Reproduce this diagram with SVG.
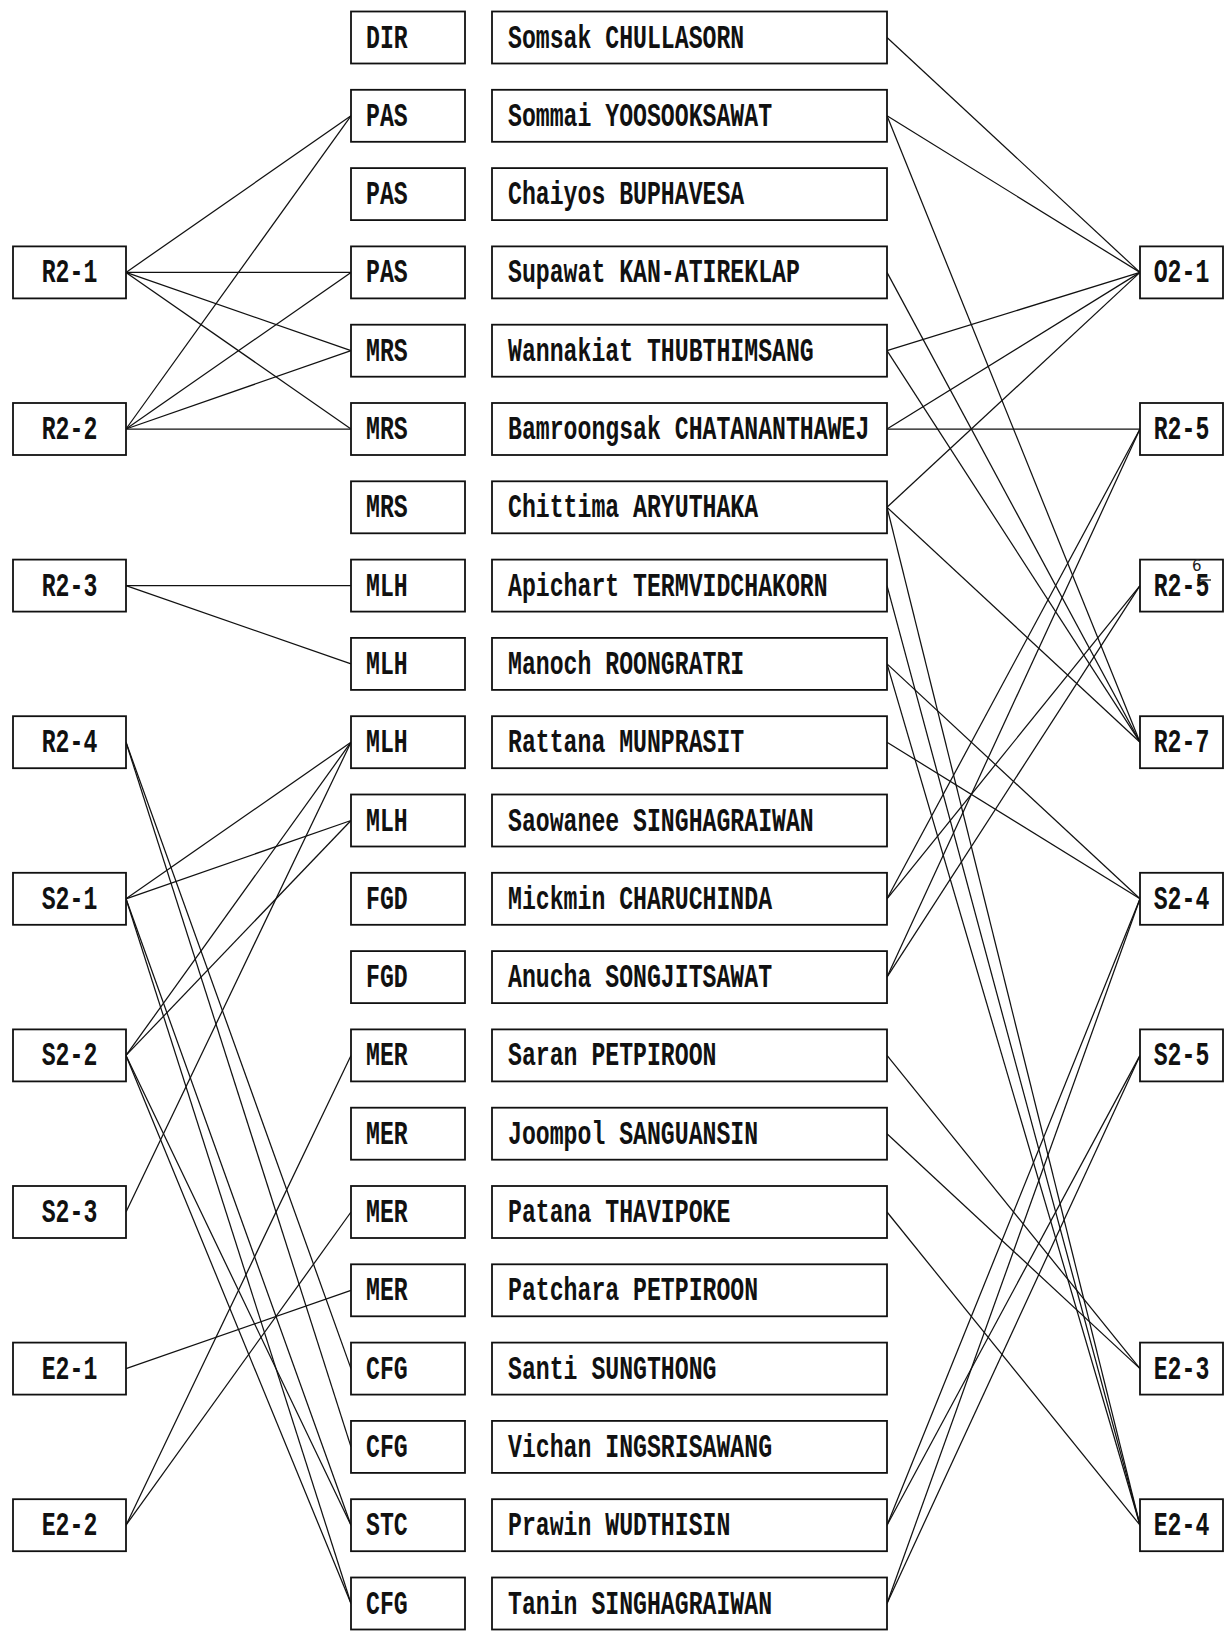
<svg xmlns="http://www.w3.org/2000/svg" width="1232" height="1632" viewBox="0 0 1232 1632">
<style>
.box{fill:#fff;stroke:#111;stroke-width:1.8}
.t{font-family:"Liberation Mono","DejaVu Sans Mono",monospace;font-weight:bold;font-size:34px;fill:#111}
.hand{font-family:"DejaVu Sans",sans-serif;font-size:15px;fill:#222}
#connectors line{stroke:#111;stroke-width:1.25;fill:none}
</style>
<rect width="1232" height="1632" fill="#fff"/>
<g id="connectors">
<line x1="126" y1="272.4" x2="351" y2="115.8"/>
<line x1="126" y1="272.4" x2="351" y2="272.4"/>
<line x1="126" y1="272.4" x2="351" y2="350.7"/>
<line x1="126" y1="272.4" x2="351" y2="429"/>
<line x1="126" y1="429" x2="351" y2="115.8"/>
<line x1="126" y1="429" x2="351" y2="272.4"/>
<line x1="126" y1="429" x2="351" y2="350.7"/>
<line x1="126" y1="429" x2="351" y2="429"/>
<line x1="126" y1="585.6" x2="351" y2="585.6"/>
<line x1="126" y1="585.6" x2="351" y2="663.9"/>
<line x1="126" y1="742.2" x2="351" y2="1368.6"/>
<line x1="126" y1="742.2" x2="351" y2="1446.9"/>
<line x1="126" y1="898.8" x2="351" y2="742.2"/>
<line x1="126" y1="898.8" x2="351" y2="820.5"/>
<line x1="126" y1="898.8" x2="351" y2="1525.2"/>
<line x1="126" y1="898.8" x2="351" y2="1603.5"/>
<line x1="126" y1="1055.4" x2="351" y2="742.2"/>
<line x1="126" y1="1055.4" x2="351" y2="820.5"/>
<line x1="126" y1="1055.4" x2="351" y2="1525.2"/>
<line x1="126" y1="1055.4" x2="351" y2="1603.5"/>
<line x1="126" y1="1212" x2="351" y2="742.2"/>
<line x1="126" y1="1368.6" x2="351" y2="1290.3"/>
<line x1="126" y1="1525.2" x2="351" y2="1055.4"/>
<line x1="126" y1="1525.2" x2="351" y2="1212"/>
<line x1="887" y1="37.5" x2="1140" y2="272.4"/>
<line x1="887" y1="115.8" x2="1140" y2="272.4"/>
<line x1="887" y1="350.7" x2="1140" y2="272.4"/>
<line x1="887" y1="429" x2="1140" y2="272.4"/>
<line x1="887" y1="507.3" x2="1140" y2="272.4"/>
<line x1="887" y1="429" x2="1140" y2="429"/>
<line x1="887" y1="898.8" x2="1140" y2="429"/>
<line x1="887" y1="977.1" x2="1140" y2="429"/>
<line x1="887" y1="898.8" x2="1140" y2="585.6"/>
<line x1="887" y1="977.1" x2="1140" y2="585.6"/>
<line x1="887" y1="115.8" x2="1140" y2="742.2"/>
<line x1="887" y1="272.4" x2="1140" y2="742.2"/>
<line x1="887" y1="350.7" x2="1140" y2="742.2"/>
<line x1="887" y1="507.3" x2="1140" y2="742.2"/>
<line x1="887" y1="663.9" x2="1140" y2="898.8"/>
<line x1="887" y1="742.2" x2="1140" y2="898.8"/>
<line x1="887" y1="1525.2" x2="1140" y2="898.8"/>
<line x1="887" y1="1603.5" x2="1140" y2="898.8"/>
<line x1="887" y1="1525.2" x2="1140" y2="1055.4"/>
<line x1="887" y1="1603.5" x2="1140" y2="1055.4"/>
<line x1="887" y1="1055.4" x2="1140" y2="1368.6"/>
<line x1="887" y1="1133.7" x2="1140" y2="1368.6"/>
<line x1="887" y1="507.3" x2="1140" y2="1525.2"/>
<line x1="887" y1="585.6" x2="1140" y2="1525.2"/>
<line x1="887" y1="663.9" x2="1140" y2="1525.2"/>
<line x1="887" y1="1212" x2="1140" y2="1525.2"/>
</g>
<g id="L-R2-1"><rect class="box" x="13" y="246.4" width="113" height="52"/><text class="t" transform="translate(41.7 282.4) scale(0.6814 1)">R2-1</text></g>
<g id="L-R2-2"><rect class="box" x="13" y="403" width="113" height="52"/><text class="t" transform="translate(41.7 439) scale(0.6814 1)">R2-2</text></g>
<g id="L-R2-3"><rect class="box" x="13" y="559.6" width="113" height="52"/><text class="t" transform="translate(41.7 595.6) scale(0.6814 1)">R2-3</text></g>
<g id="L-R2-4"><rect class="box" x="13" y="716.2" width="113" height="52"/><text class="t" transform="translate(41.7 752.2) scale(0.6814 1)">R2-4</text></g>
<g id="L-S2-1"><rect class="box" x="13" y="872.8" width="113" height="52"/><text class="t" transform="translate(41.7 908.8) scale(0.6814 1)">S2-1</text></g>
<g id="L-S2-2"><rect class="box" x="13" y="1029.4" width="113" height="52"/><text class="t" transform="translate(41.7 1065.4) scale(0.6814 1)">S2-2</text></g>
<g id="L-S2-3"><rect class="box" x="13" y="1186" width="113" height="52"/><text class="t" transform="translate(41.7 1222) scale(0.6814 1)">S2-3</text></g>
<g id="L-E2-1"><rect class="box" x="13" y="1342.6" width="113" height="52"/><text class="t" transform="translate(41.7 1378.6) scale(0.6814 1)">E2-1</text></g>
<g id="L-E2-2"><rect class="box" x="13" y="1499.2" width="113" height="52"/><text class="t" transform="translate(41.7 1535.2) scale(0.6814 1)">E2-2</text></g>
<g id="C0"><rect class="box" x="351" y="11.5" width="114" height="52"/><text class="t" transform="translate(366 47.5) scale(0.6814 1)">DIR</text></g>
<g id="C1"><rect class="box" x="351" y="89.8" width="114" height="52"/><text class="t" transform="translate(366 125.8) scale(0.6814 1)">PAS</text></g>
<g id="C2"><rect class="box" x="351" y="168.1" width="114" height="52"/><text class="t" transform="translate(366 204.1) scale(0.6814 1)">PAS</text></g>
<g id="C3"><rect class="box" x="351" y="246.4" width="114" height="52"/><text class="t" transform="translate(366 282.4) scale(0.6814 1)">PAS</text></g>
<g id="C4"><rect class="box" x="351" y="324.7" width="114" height="52"/><text class="t" transform="translate(366 360.7) scale(0.6814 1)">MRS</text></g>
<g id="C5"><rect class="box" x="351" y="403" width="114" height="52"/><text class="t" transform="translate(366 439) scale(0.6814 1)">MRS</text></g>
<g id="C6"><rect class="box" x="351" y="481.3" width="114" height="52"/><text class="t" transform="translate(366 517.3) scale(0.6814 1)">MRS</text></g>
<g id="C7"><rect class="box" x="351" y="559.6" width="114" height="52"/><text class="t" transform="translate(366 595.6) scale(0.6814 1)">MLH</text></g>
<g id="C8"><rect class="box" x="351" y="637.9" width="114" height="52"/><text class="t" transform="translate(366 673.9) scale(0.6814 1)">MLH</text></g>
<g id="C9"><rect class="box" x="351" y="716.2" width="114" height="52"/><text class="t" transform="translate(366 752.2) scale(0.6814 1)">MLH</text></g>
<g id="C10"><rect class="box" x="351" y="794.5" width="114" height="52"/><text class="t" transform="translate(366 830.5) scale(0.6814 1)">MLH</text></g>
<g id="C11"><rect class="box" x="351" y="872.8" width="114" height="52"/><text class="t" transform="translate(366 908.8) scale(0.6814 1)">FGD</text></g>
<g id="C12"><rect class="box" x="351" y="951.1" width="114" height="52"/><text class="t" transform="translate(366 987.1) scale(0.6814 1)">FGD</text></g>
<g id="C13"><rect class="box" x="351" y="1029.4" width="114" height="52"/><text class="t" transform="translate(366 1065.4) scale(0.6814 1)">MER</text></g>
<g id="C14"><rect class="box" x="351" y="1107.7" width="114" height="52"/><text class="t" transform="translate(366 1143.7) scale(0.6814 1)">MER</text></g>
<g id="C15"><rect class="box" x="351" y="1186" width="114" height="52"/><text class="t" transform="translate(366 1222) scale(0.6814 1)">MER</text></g>
<g id="C16"><rect class="box" x="351" y="1264.3" width="114" height="52"/><text class="t" transform="translate(366 1300.3) scale(0.6814 1)">MER</text></g>
<g id="C17"><rect class="box" x="351" y="1342.6" width="114" height="52"/><text class="t" transform="translate(366 1378.6) scale(0.6814 1)">CFG</text></g>
<g id="C18"><rect class="box" x="351" y="1420.9" width="114" height="52"/><text class="t" transform="translate(366 1456.9) scale(0.6814 1)">CFG</text></g>
<g id="C19"><rect class="box" x="351" y="1499.2" width="114" height="52"/><text class="t" transform="translate(366 1535.2) scale(0.6814 1)">STC</text></g>
<g id="C20"><rect class="box" x="351" y="1577.5" width="114" height="52"/><text class="t" transform="translate(366 1613.5) scale(0.6814 1)">CFG</text></g>
<g id="N0"><rect class="box" x="492" y="11.5" width="395" height="52"/><text class="t" transform="translate(508 47.5) scale(0.6814 1)">Somsak CHULLASORN</text></g>
<g id="N1"><rect class="box" x="492" y="89.8" width="395" height="52"/><text class="t" transform="translate(508 125.8) scale(0.6814 1)">Sommai YOOSOOKSAWAT</text></g>
<g id="N2"><rect class="box" x="492" y="168.1" width="395" height="52"/><text class="t" transform="translate(508 204.1) scale(0.6814 1)">Chaiyos BUPHAVESA</text></g>
<g id="N3"><rect class="box" x="492" y="246.4" width="395" height="52"/><text class="t" transform="translate(508 282.4) scale(0.6814 1)">Supawat KAN-ATIREKLAP</text></g>
<g id="N4"><rect class="box" x="492" y="324.7" width="395" height="52"/><text class="t" transform="translate(508 360.7) scale(0.6814 1)">Wannakiat THUBTHIMSANG</text></g>
<g id="N5"><rect class="box" x="492" y="403" width="395" height="52"/><text class="t" transform="translate(508 439) scale(0.6814 1)">Bamroongsak CHATANANTHAWEJ</text></g>
<g id="N6"><rect class="box" x="492" y="481.3" width="395" height="52"/><text class="t" transform="translate(508 517.3) scale(0.6814 1)">Chittima ARYUTHAKA</text></g>
<g id="N7"><rect class="box" x="492" y="559.6" width="395" height="52"/><text class="t" transform="translate(508 595.6) scale(0.6814 1)">Apichart TERMVIDCHAKORN</text></g>
<g id="N8"><rect class="box" x="492" y="637.9" width="395" height="52"/><text class="t" transform="translate(508 673.9) scale(0.6814 1)">Manoch ROONGRATRI</text></g>
<g id="N9"><rect class="box" x="492" y="716.2" width="395" height="52"/><text class="t" transform="translate(508 752.2) scale(0.6814 1)">Rattana MUNPRASIT</text></g>
<g id="N10"><rect class="box" x="492" y="794.5" width="395" height="52"/><text class="t" transform="translate(508 830.5) scale(0.6814 1)">Saowanee SINGHAGRAIWAN</text></g>
<g id="N11"><rect class="box" x="492" y="872.8" width="395" height="52"/><text class="t" transform="translate(508 908.8) scale(0.6814 1)">Mickmin CHARUCHINDA</text></g>
<g id="N12"><rect class="box" x="492" y="951.1" width="395" height="52"/><text class="t" transform="translate(508 987.1) scale(0.6814 1)">Anucha SONGJITSAWAT</text></g>
<g id="N13"><rect class="box" x="492" y="1029.4" width="395" height="52"/><text class="t" transform="translate(508 1065.4) scale(0.6814 1)">Saran PETPIROON</text></g>
<g id="N14"><rect class="box" x="492" y="1107.7" width="395" height="52"/><text class="t" transform="translate(508 1143.7) scale(0.6814 1)">Joompol SANGUANSIN</text></g>
<g id="N15"><rect class="box" x="492" y="1186" width="395" height="52"/><text class="t" transform="translate(508 1222) scale(0.6814 1)">Patana THAVIPOKE</text></g>
<g id="N16"><rect class="box" x="492" y="1264.3" width="395" height="52"/><text class="t" transform="translate(508 1300.3) scale(0.6814 1)">Patchara PETPIROON</text></g>
<g id="N17"><rect class="box" x="492" y="1342.6" width="395" height="52"/><text class="t" transform="translate(508 1378.6) scale(0.6814 1)">Santi SUNGTHONG</text></g>
<g id="N18"><rect class="box" x="492" y="1420.9" width="395" height="52"/><text class="t" transform="translate(508 1456.9) scale(0.6814 1)">Vichan INGSRISAWANG</text></g>
<g id="N19"><rect class="box" x="492" y="1499.2" width="395" height="52"/><text class="t" transform="translate(508 1535.2) scale(0.6814 1)">Prawin WUDTHISIN</text></g>
<g id="N20"><rect class="box" x="492" y="1577.5" width="395" height="52"/><text class="t" transform="translate(508 1613.5) scale(0.6814 1)">Tanin SINGHAGRAIWAN</text></g>
<g id="R-O2-1"><rect class="box" x="1140" y="246.4" width="83" height="52"/><text class="t" transform="translate(1153.7 282.4) scale(0.6814 1)">O2-1</text></g>
<g id="R-R2-5"><rect class="box" x="1140" y="403" width="83" height="52"/><text class="t" transform="translate(1153.7 439) scale(0.6814 1)">R2-5</text></g>
<g id="R-R2-6"><rect class="box" x="1140" y="559.6" width="83" height="52"/><text class="t" transform="translate(1153.7 595.6) scale(0.6814 1)">R2-5</text><line x1="1197" y1="580" x2="1211" y2="580" stroke="#222" stroke-width="1.4"/><text class="hand" x="1192" y="571">6</text></g>
<g id="R-R2-7"><rect class="box" x="1140" y="716.2" width="83" height="52"/><text class="t" transform="translate(1153.7 752.2) scale(0.6814 1)">R2-7</text></g>
<g id="R-S2-4"><rect class="box" x="1140" y="872.8" width="83" height="52"/><text class="t" transform="translate(1153.7 908.8) scale(0.6814 1)">S2-4</text></g>
<g id="R-S2-5"><rect class="box" x="1140" y="1029.4" width="83" height="52"/><text class="t" transform="translate(1153.7 1065.4) scale(0.6814 1)">S2-5</text></g>
<g id="R-E2-3"><rect class="box" x="1140" y="1342.6" width="83" height="52"/><text class="t" transform="translate(1153.7 1378.6) scale(0.6814 1)">E2-3</text></g>
<g id="R-E2-4"><rect class="box" x="1140" y="1499.2" width="83" height="52"/><text class="t" transform="translate(1153.7 1535.2) scale(0.6814 1)">E2-4</text></g>
</svg>
